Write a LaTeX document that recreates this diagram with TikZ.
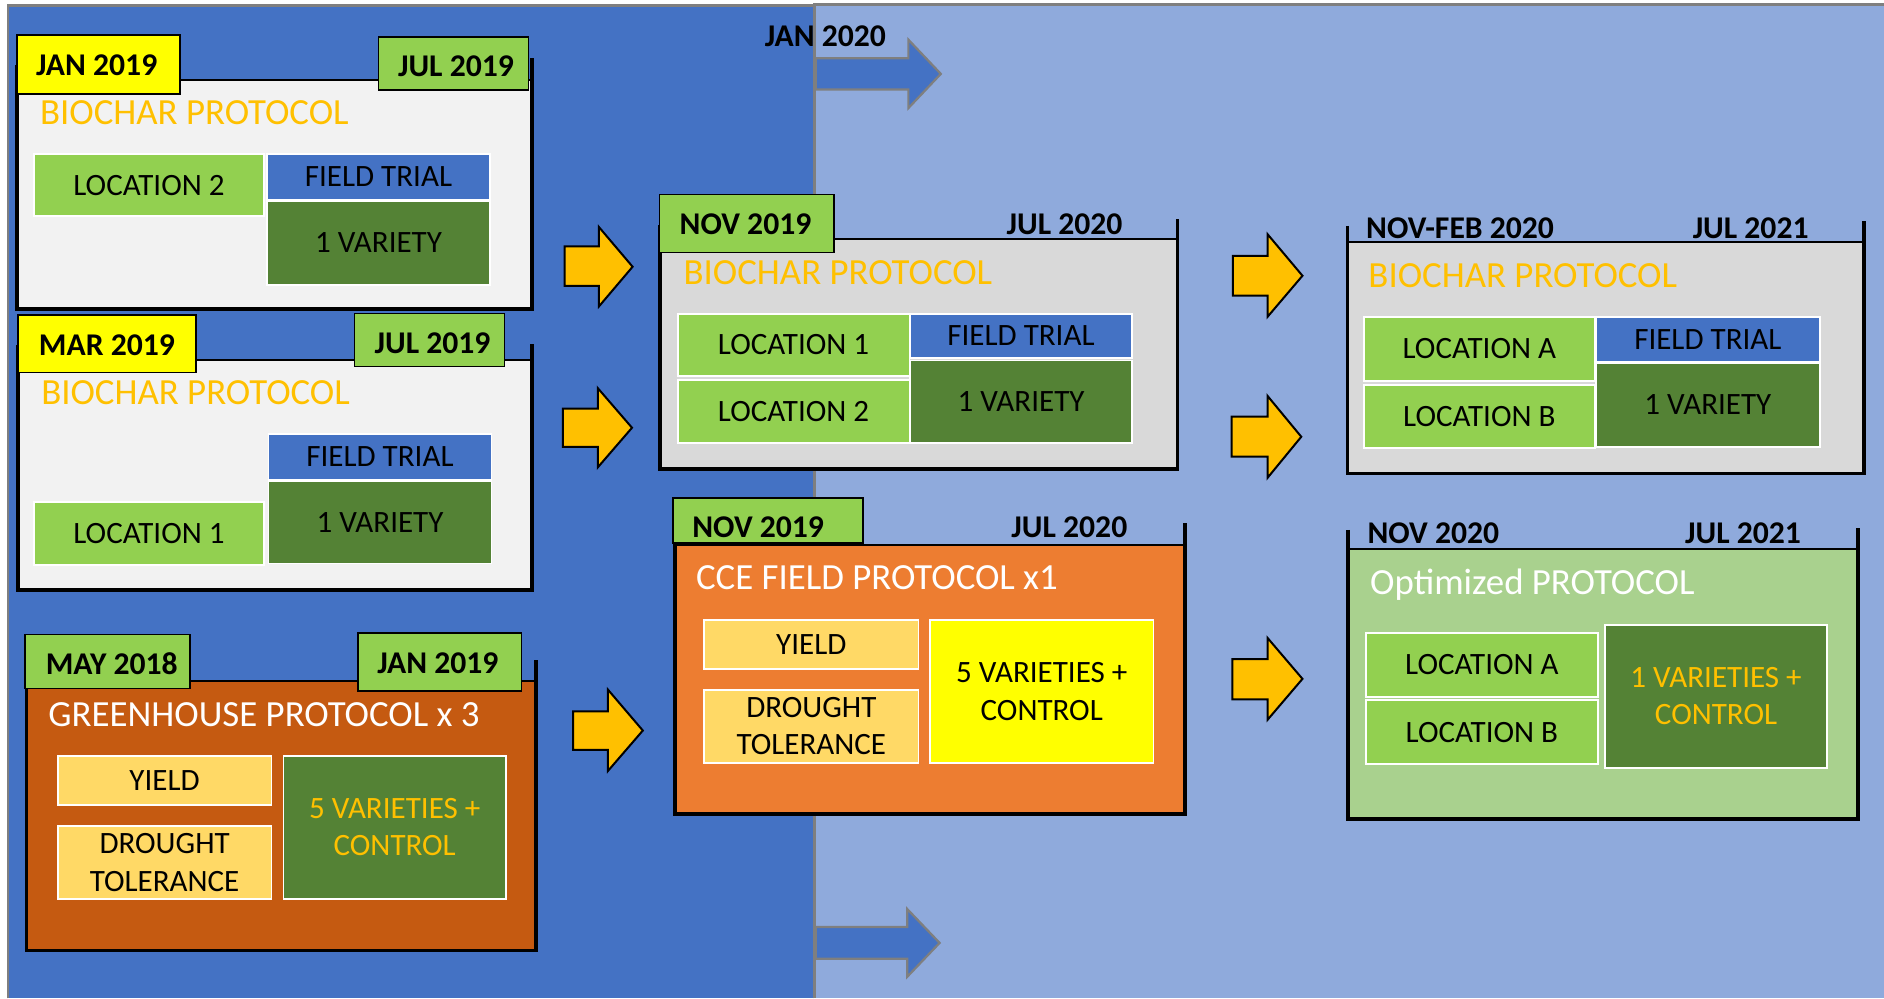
\documentclass[tikz,border=0pt]{standalone}
\usepackage{fontspec}
\setmainfont{Carlito}
\usetikzlibrary{fit}
\definecolor{dblue}{HTML}{4472C4}
\definecolor{lblue}{HTML}{8FAADC}
\definecolor{bgray}{HTML}{7F7F7F}
\definecolor{pgrayA}{HTML}{F2F2F2}
\definecolor{pgrayB}{HTML}{D9D9D9}
\definecolor{ghouse}{HTML}{C55A11}
\definecolor{cceor}{HTML}{ED7D31}
\definecolor{optg}{HTML}{A9D18E}
\definecolor{tyellow}{HTML}{FFFF00}
\definecolor{lgreen}{HTML}{92D050}
\definecolor{dgreen}{HTML}{548235}
\definecolor{lyellow}{HTML}{FFD966}
\definecolor{gold}{HTML}{FFC000}
\tikzset{
  datefont/.style={font=\fontsize{15.8}{19}\selectfont\bfseries},
  cell/.style={inner sep=0pt, draw=white, line width=0.9pt},
  ctext/.style={inner sep=0pt, align=center, font=\fontsize{15.5}{18.6}\selectfont},
  tab/.style={inner sep=0pt, draw=black, line width=0.8pt},
  panel/.style={inner sep=0pt},
  ptitle/.style={anchor=base west, inner sep=0pt, font=\fontsize{18.4}{22}\selectfont},
  dlabel/.style={inner sep=0pt, datefont},
  topline/.style={draw=black, line width=1pt},
  bracket/.style={draw=black, line width=1.9pt},
  yarrow/.style={fill=gold, draw=black, line width=1pt, line join=miter},
  tarrow/.style={fill=dblue, draw=bgray, line width=1.1pt, line join=miter}
}
\begin{document}
\begin{tikzpicture}[x=0.6pt, y=-0.6pt]
\useasboundingbox (0,0) rectangle (1568,831);
% background
\fill[white] (0,0) rectangle (1568,831);
\fill[dblue] (6.5,4.5) rectangle (678,831);
\fill[lblue] (678,3.5) rectangle (1568,831);
\draw[bgray, line width=1.3pt] (6.5,831) -- (6.5,4.5) -- (678,4.5);
\draw[bgray, line width=1.3pt] (678,831) -- (678,3.5) -- (1568,3.5);

% timeline arrows
\draw[tarrow] (679,48.5) -- (756,48.5) -- (756,33) -- (783,61.5) -- (756,90) -- (756,74.5) -- (679,74.5) -- cycle;
\node[dlabel] (jan20) at (687,30.5) {JAN 2020};
\draw[tarrow] (679,771.5) -- (755,771.5) -- (755,756.5) -- (782,784.75) -- (755,813) -- (755,798) -- (679,798) -- cycle;

% ---------- Box 1
\node[panel, fill=pgrayA, fit={(14,67) (443,257)}] (p1) {};
\draw[topline] (p1.north west) -- (p1.north east);
\draw[bracket] (14,54) -- (14,257) -- (443,257) -- (443,48.5);
\node[tab, fill=tyellow, fit={(14,29) (150,78)}] (p1a) {};
\node[dlabel] (p1at) at ([shift={(-1.5,0.5)}]p1a.center) {JAN 2019};
\node[tab, fill=lgreen, fit={(315,31) (440,75)}] (p1b) {};
\node[dlabel] (p1bt) at ([shift={(2,2)}]p1b.center) {JUL 2019};
\node[ptitle, text=gold] (p1t) at (33,103.85) {BIOCHAR PROTOCOL};
\node[cell, fill=lgreen, fit={(28,128) (220,180)}] (p1l) {};
\node[ctext] (p1lt) at (p1l.center) {LOCATION 2};
\node[cell, fill=dblue, fit={(222,128) (408,166)}] (p1f) {};
\node[ctext] (p1ft) at (p1f.center) {FIELD TRIAL};
\node[cell, fill=dgreen, fit={(222,167) (408,237)}] (p1v) {};
\node[ctext] (p1vt) at (p1v.center) {1 VARIETY};

% ---------- Box 2
\node[panel, fill=pgrayA, fit={(15,300) (443,491)}] (p2) {};
\draw[topline] (p2.north west) -- (p2.north east);
\draw[bracket] (15,287) -- (15,491) -- (443,491) -- (443,286);
\node[tab, fill=tyellow, fit={(15,262) (163,310)}] (p2a) {};
\node[dlabel] (p2at) at ([shift={(0,1)}]p2a.center) {MAR 2019};
\node[tab, fill=lgreen, fit={(295,261) (420,305)}] (p2b) {};
\node[dlabel] (p2bt) at ([shift={(2.5,2.5)}]p2b.center) {JUL 2019};
\node[ptitle, text=gold] (p2t) at (34,336.85) {BIOCHAR PROTOCOL};
\node[cell, fill=dblue, fit={(223.5,361) (409,399)}] (p2f) {};
\node[ctext] (p2ft) at (p2f.center) {FIELD TRIAL};
\node[cell, fill=dgreen, fit={(223.5,400) (409,469)}] (p2v) {};
\node[ctext] (p2vt) at (p2v.center) {1 VARIETY};
\node[cell, fill=lgreen, fit={(28,418) (220,470)}] (p2l) {};
\node[ctext] (p2lt) at (p2l.center) {LOCATION 1};

% ---------- Box 3
\node[panel, fill=ghouse, fit={(22,567.5) (446,791)}] (p3) {};
\draw[topline] (p3.north west) -- (p3.north east);
\draw[bracket] (22,551) -- (22,791) -- (446,791) -- (446,549);
\node[tab, fill=lgreen, fit={(21,528) (158,573)}] (p3a) {};
\node[dlabel] (p3at) at ([shift={(3.5,1.5)}]p3a.center) {MAY 2018};
\node[tab, fill=lgreen, fit={(298,527) (434,575)}] (p3b) {};
\node[dlabel] (p3bt) at ([shift={(-1.5,1)}]p3b.center) {JAN 2019};
\node[ptitle, text=white] (p3t) at (40,604.85) {GREENHOUSE PROTOCOL x 3};
\node[cell, fill=lyellow, fit={(48,629) (226,670)}] (p3y) {};
\node[ctext] (p3yt) at (p3y.center) {YIELD};
\node[cell, fill=lyellow, fit={(48,687.6) (226,748)}] (p3d) {};
\node[ctext] (p3dt) at (p3d.center) {DROUGHT\\TOLERANCE};
\node[cell, fill=dgreen, fit={(236,629) (421,748)}] (p3v) {};
\node[ctext, text=gold] (p3vt) at (p3v.center) {5 VARIETIES +\\CONTROL};

% ---------- Box 4
\node[panel, fill=pgrayB, fit={(549.5,199) (980,390.6)}] (p4) {};
\draw[topline] (p4.north west) -- (p4.north east);
\draw[bracket] (549.5,187) -- (549.5,390.6) -- (980,390.6) -- (980,182);
\node[tab, fill=lgreen, fit={(549,162) (694,210)}] (p4a) {};
\node[dlabel] (p4at) at ([shift={(-1,1)}]p4a.center) {NOV 2019};
\node[dlabel] (p4b) at (886,187) {JUL 2020};
\node[ptitle, text=gold] (p4t) at (568.6,236.85) {BIOCHAR PROTOCOL};
\node[cell, fill=lgreen, fit={(564,261) (757,313)}] (p4l1) {};
\node[ctext] (p4l1t) at (p4l1.center) {LOCATION 1};
\node[cell, fill=lgreen, fit={(564,316) (757,369)}] (p4l2) {};
\node[ctext] (p4l2t) at (p4l2.center) {LOCATION 2};
\node[cell, fill=dblue, fit={(757.5,261) (942,298)}] (p4f) {};
\node[ctext] (p4ft) at (p4f.center) {FIELD TRIAL};
\node[cell, fill=dgreen, fit={(757.5,300) (942,369)}] (p4v) {};
\node[ctext] (p4vt) at (p4v.center) {1 VARIETY};

% ---------- Box 5
\node[panel, fill=cceor, fit={(561.5,453.6) (986,677.6)}] (p5) {};
\draw[topline] (p5.north west) -- (p5.north east);
\draw[bracket] (561.5,433) -- (561.5,677.6) -- (986,677.6) -- (986,435.5);
\node[tab, fill=lgreen, fit={(560,414.6) (718,451.7)}] (p5a) {};
\node[dlabel] (p5at) at (631,439) {NOV 2019};
\node[dlabel] (p5b) at (890,439) {JUL 2020};
\node[ptitle, text=white] (p5t) at (579,490.85) {CCE FIELD PROTOCOL x1};
\node[cell, fill=lyellow, fit={(586,516) (764.5,557)}] (p5y) {};
\node[ctext] (p5yt) at (p5y.center) {YIELD};
\node[cell, fill=lyellow, fit={(586,574) (764.5,635)}] (p5d) {};
\node[ctext] (p5dt) at (p5d.center) {DROUGHT\\TOLERANCE};
\node[cell, fill=tyellow, fit={(774,516) (960,635)}] (p5v) {};
\node[ctext] (p5vt) at (p5v.center) {5 VARIETIES +\\CONTROL};

% ---------- Box 6
\node[panel, fill=pgrayB, fit={(1121.5,201.6) (1551.5,394)}] (p6) {};
\draw[topline] (p6.north west) -- (p6.north east);
\draw[bracket] (1121.5,188) -- (1121.5,394) -- (1551.5,394) -- (1551.5,184);
\node[dlabel, anchor=base west] (p6a) at (1136.7,198.45) {NOV-FEB 2020};
\node[dlabel] (p6b) at (1457,190) {JUL 2021};
\node[ptitle, text=gold] (p6t) at (1138.6,239.55) {BIOCHAR PROTOCOL};
\node[cell, fill=lgreen, fit={(1135,263.6) (1327.4,317)}] (p6l1) {};
\node[ctext] (p6l1t) at (p6l1.center) {LOCATION A};
\node[cell, fill=lgreen, fit={(1135,320.4) (1327.4,373)}] (p6l2) {};
\node[ctext] (p6l2t) at (p6l2.center) {LOCATION B};
\node[cell, fill=dblue, fit={(1328.4,263.6) (1514.4,301)}] (p6f) {};
\node[ctext] (p6ft) at (p6f.center) {FIELD TRIAL};
\node[cell, fill=dgreen, fit={(1328.4,302) (1514.4,372)}] (p6v) {};
\node[ctext] (p6vt) at (p6v.center) {1 VARIETY};

% ---------- Box 7
\node[panel, fill=optg, fit={(1122,457) (1546,681.7)}] (p7) {};
\draw[topline] (p7.north west) -- (p7.north east);
\draw[bracket] (1122,441) -- (1122,681.7) -- (1546,681.7) -- (1546,439.5);
\node[dlabel, anchor=base west] (p7a) at (1137.8,452.25) {NOV 2020};
\node[dlabel] (p7b) at (1450.7,443.8) {JUL 2021};
\node[ptitle, text=white] (p7t) at (1140,494.85) {Optimized PROTOCOL};
\node[cell, fill=lgreen, fit={(1136.7,526.6) (1330,579.8)}] (p7l1) {};
\node[ctext] (p7l1t) at (p7l1.center) {LOCATION A};
\node[cell, fill=lgreen, fit={(1136.7,582.6) (1330,636)}] (p7l2) {};
\node[ctext] (p7l2t) at (p7l2.center) {LOCATION B};
\node[cell, fill=dgreen, fit={(1335.8,520) (1520.6,639)}] (p7v) {};
\node[ctext, text=gold] (p7vt) at (p7v.center) {1 VARIETIES +\\CONTROL};

% ---------- yellow block arrows
\draw[yarrow] (470,205) -- (498.5,205) -- (498.5,189) -- (526.5,222) -- (498.5,255) -- (498.5,238) -- (470,238) -- cycle;
\draw[yarrow] (468.5,340) -- (497.5,340) -- (497.5,323) -- (526,356) -- (497.5,389) -- (497.5,372) -- (468.5,372) -- cycle;
\draw[yarrow] (477,592) -- (506,592) -- (506,574) -- (535,608) -- (506,641.6) -- (506,624) -- (477,624) -- cycle;
\draw[yarrow] (1026,213) -- (1055,213) -- (1055,195) -- (1084,229.5) -- (1055,263.6) -- (1055,246) -- (1026,246) -- cycle;
\draw[yarrow] (1025,346.8) -- (1055,346.8) -- (1055,329.6) -- (1083,363.5) -- (1055,397.6) -- (1055,380) -- (1025,380) -- cycle;
\draw[yarrow] (1025.6,548.5) -- (1055,548.5) -- (1055,531) -- (1084,565) -- (1055,599) -- (1055,582) -- (1025.6,582) -- cycle;
\end{tikzpicture}
\end{document}
